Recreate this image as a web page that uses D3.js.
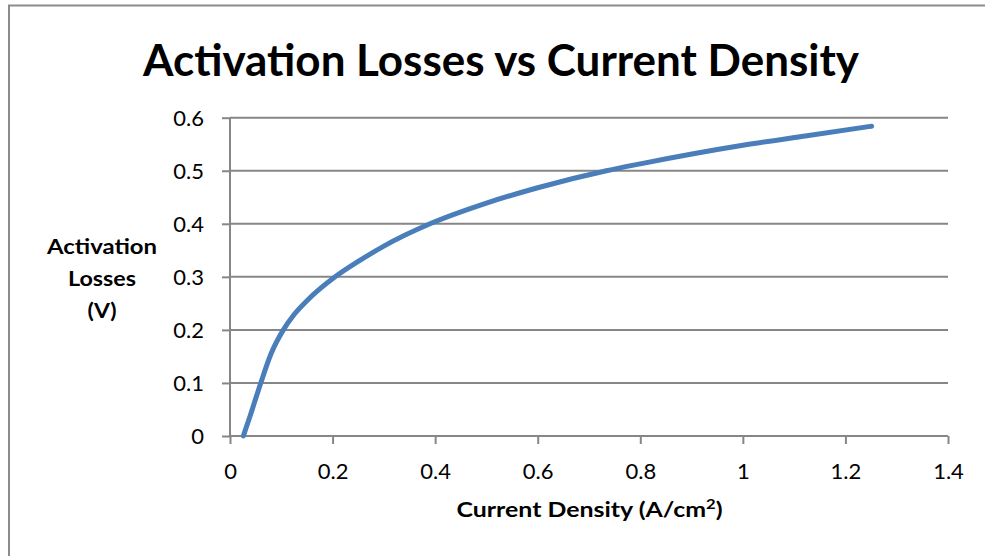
<!DOCTYPE html>
<html>
<head>
<meta charset="utf-8">
<script src="https://cdn.jsdelivr.net/npm/d3@7"></script>
<style>
  html, body { margin: 0; padding: 0; background: #fff; }
  svg { display: block; }
  text { font-family: Lato, "Open Sans", sans-serif; fill: #000; }
</style>
</head>
<body>
<svg id="chart" width="985" height="556"></svg>
<script>
// Current density (A/cm²) and activation losses (V)
const currentDensity = [0.026, 0.04, 0.06, 0.08, 0.104, 0.125, 0.15, 0.205, 0.25, 0.3, 0.39, 0.5, 0.6, 0.734, 0.8, 1.0, 1.125, 1.251];
const activationLoss = [0.0, 0.04, 0.1, 0.155, 0.2, 0.229, 0.255, 0.3, 0.329, 0.358, 0.4, 0.439, 0.468, 0.5, 0.513, 0.548, 0.566, 0.584];
const xTicks = [0, 0.2, 0.4, 0.6, 0.8, 1, 1.2, 1.4];
const yTicks = [0, 0.1, 0.2, 0.3, 0.4, 0.5, 0.6];

const titleText = "Activation Losses vs Current Density";
const yTitleLines = ["Activation", "Losses", "(V)"];
const yTitleWidths = [110, 68, 29];

const svg = d3.select("#chart");
const plot = { left: 230, right: 948, top: 117.7, bottom: 436 };
const gray = "#868686";

// outer frame
svg.append("path")
  .attr("d", "M9,556 L9,5.5 L985,5.5")
  .attr("fill", "none").attr("stroke", "#8c8c8c").attr("stroke-width", 2);

const x = d3.scaleLinear().domain([0, 1.4]).range([plot.left, plot.right]);
const y = d3.scaleLinear().domain([0, 0.6]).range([plot.bottom, plot.top]);

// horizontal gridlines
svg.append("g").selectAll("line").data(yTicks.filter(d => d > 0)).join("line")
  .attr("x1", plot.left).attr("x2", plot.right)
  .attr("y1", d => y(d)).attr("y2", d => y(d))
  .attr("stroke", gray).attr("stroke-width", 2);

// y axis
const yAxis = svg.append("g").attr("transform", `translate(${plot.left},0)`)
  .call(d3.axisLeft(y).tickValues(yTicks).tickSize(8).tickPadding(18)
    .tickFormat(d => d === 0 ? "0" : d3.format(".1f")(d)));
yAxis.select(".domain").attr("stroke", gray).attr("stroke-width", 2)
  .attr("d", `M0,${plot.top}V${plot.bottom}`);
yAxis.selectAll(".tick line").attr("stroke", gray).attr("stroke-width", 2);
yAxis.selectAll(".tick text").attr("font-size", 22).attr("dy", "0.36em")
  .style("font-family", "Lato, sans-serif").attr("fill", "#000");

// x axis
const xAxis = svg.append("g").attr("transform", `translate(0,${plot.bottom})`)
  .call(d3.axisBottom(x).tickValues(xTicks).tickSize(8).tickPadding(19)
    .tickFormat(d => d === 0 ? "0" : (d === 1 ? "1" : d3.format(".1f")(d))));
xAxis.select(".domain").attr("stroke", gray).attr("stroke-width", 2)
  .attr("d", `M${plot.left},0H${plot.right}`);
xAxis.selectAll(".tick line").attr("stroke", gray).attr("stroke-width", 2);
xAxis.selectAll(".tick text").attr("font-size", 22)
  .style("font-family", "Lato, sans-serif").attr("fill", "#000");

// curve
const line = d3.line()
  .x((d, i) => x(currentDensity[i]))
  .y(d => y(d))
  .curve(d3.curveMonotoneX);
svg.append("path")
  .datum(activationLoss)
  .attr("d", line)
  .attr("fill", "none")
  .attr("stroke", "#4a7ebb")
  .attr("stroke-width", 5)
  .attr("stroke-linecap", "round")
  .attr("stroke-linejoin", "round");

// title
svg.append("text")
  .attr("x", 501).attr("y", 76)
  .attr("text-anchor", "middle")
  .attr("font-size", 43).attr("font-weight", "bold")
  .attr("textLength", 716).attr("lengthAdjust", "spacingAndGlyphs")
  .text(titleText);

// y axis title
svg.append("g").selectAll("text").data(yTitleLines).join("text")
  .attr("x", 102)
  .attr("y", (d, i) => 254 + i * 31.8)
  .attr("text-anchor", "middle")
  .attr("font-size", 21).attr("font-weight", "bold")
  .attr("textLength", (d, i) => yTitleWidths[i])
  .attr("lengthAdjust", "spacingAndGlyphs")
  .text(d => d);

// x axis title
const xt = svg.append("text")
  .attr("x", 589.5).attr("y", 517)
  .attr("text-anchor", "middle")
  .attr("font-size", 21).attr("font-weight", "bold")
  .attr("textLength", 266).attr("lengthAdjust", "spacingAndGlyphs");
xt.append("tspan").text("Current Density (A/cm");
xt.append("tspan").attr("font-size", 14).attr("dy", -8).text("2");
xt.append("tspan").attr("dy", 8).text(")");
</script>
</body>
</html>
